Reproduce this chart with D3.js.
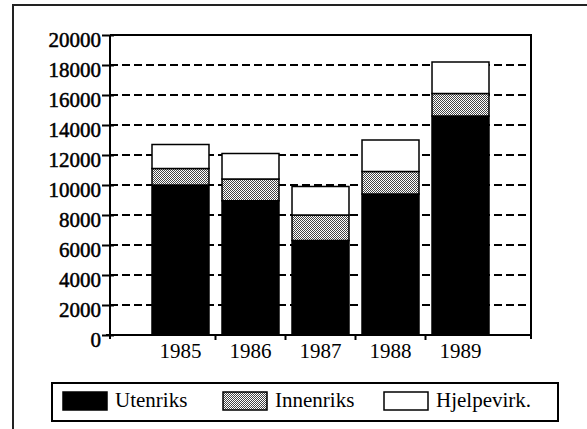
<!DOCTYPE html>
<html>
<head>
<meta charset="utf-8">
<script src="https://cdn.jsdelivr.net/npm/d3@7"></script>
<style>
  body { margin: 0; background: #fff; }
  text { font-family: "Liberation Serif", "Times New Roman", serif; fill: #000; }
</style>
</head>
<body>
<svg id="chart" width="587" height="429"></svg>
<script>
// data
var years = ["1985", "1986", "1987", "1988", "1989"];
var seriesNames = ["Utenriks", "Innenriks", "Hjelpevirk."];
var utenriks = [10000, 8950, 6300, 9400, 14600];
var innenriks = [1100, 1450, 1700, 1500, 1500];
var hjelpevirk = [1600, 1700, 1900, 2100, 2100];
var yTicks = [0, 2000, 4000, 6000, 8000, 10000, 12000, 14000, 16000, 18000, 20000];

var rows = years.map(function(y, i) {
  return { year: y, "Utenriks": utenriks[i], "Innenriks": innenriks[i], "Hjelpevirk.": hjelpevirk[i] };
});

var svg = d3.select("#chart");
var plotL = 110, plotR = 531, plotT = 35, plotB = 335;

// stipple for Innenriks
var defs = svg.append("defs");
var pat = defs.append("pattern")
  .attr("id", "dots")
  .attr("width", 2).attr("height", 2)
  .attr("patternUnits", "userSpaceOnUse");
pat.append("rect").attr("width", 2).attr("height", 2).attr("fill", "#fff");
pat.append("rect").attr("x", 0).attr("y", 0).attr("width", 1).attr("height", 1).attr("fill", "#444");
pat.append("rect").attr("x", 1).attr("y", 1).attr("width", 1).attr("height", 1).attr("fill", "#444");

var fills = { "Utenriks": "#000", "Innenriks": "url(#dots)", "Hjelpevirk.": "#fff" };

// outer frame (only top and left edges show)
svg.append("path")
  .attr("d", "M13,429 L13,5 L587,5")
  .attr("fill", "none").attr("stroke", "#222").attr("stroke-width", 2);

var x = d3.scaleBand()
  .domain(years)
  .range([plotL, plotR])
  .paddingInner(0.186)
  .paddingOuter(0.6);

var y = d3.scaleLinear()
  .domain([0, 20000])
  .range([plotB, plotT]);

// dashed grid
svg.append("g")
  .selectAll("line")
  .data(yTicks.filter(function(d) { return d > 0 && d < 20000; }))
  .join("line")
  .attr("x1", plotL).attr("x2", plotR)
  .attr("y1", function(d) { return y(d); })
  .attr("y2", function(d) { return y(d); })
  .attr("stroke", "#000")
  .attr("stroke-width", 2.2)
  .attr("stroke-dasharray", "8,4");

// stacked bars
var stack = d3.stack().keys(seriesNames);
var layers = stack(rows);

svg.append("g")
  .selectAll("g")
  .data(layers)
  .join("g")
  .attr("fill", function(d) { return fills[d.key]; })
  .selectAll("rect")
  .data(function(d) { return d; })
  .join("rect")
  .attr("x", function(d) { return x(d.data.year); })
  .attr("y", function(d) { return y(d[1]); })
  .attr("width", x.bandwidth())
  .attr("height", function(d) { return y(d[0]) - y(d[1]); })
  .attr("stroke", "#000")
  .attr("stroke-width", 1.5);

// plot frame: top and right border
svg.append("path")
  .attr("d", "M" + plotL + "," + plotT + " L" + plotR + "," + plotT + " L" + plotR + "," + (plotB + 4))
  .attr("fill", "none").attr("stroke", "#000").attr("stroke-width", 2);

// y axis
var yAxis = d3.axisLeft(y)
  .tickValues(yTicks)
  .tickFormat(d3.format("d"))
  .tickSize(8)
  .tickPadding(1)
  .tickSizeOuter(0);

var yg = svg.append("g")
  .attr("transform", "translate(" + plotL + ",0)")
  .call(yAxis)
  .attr("font-family", "Liberation Serif")
  .attr("font-size", 21);
yg.select(".domain").attr("stroke-width", 2).attr("d", "M0," + plotT + "V" + (plotB + 4));
yg.selectAll(".tick line").attr("x2", -8).attr("x1", 4).attr("stroke-width", 2);
yg.selectAll(".tick text")
  .attr("dy", null)
  .attr("y", 11)
  .attr("stroke", "#000")
  .attr("stroke-width", 0.5);

// x axis: ticks sit between the bars
var centers = years.map(function(d) { return x(d) + x.bandwidth() / 2; });
var between = [];
for (var i = 1; i < centers.length; i++) between.push((centers[i - 1] + centers[i]) / 2);

var xg = svg.append("g");
xg.append("line")
  .attr("x1", plotL - 4).attr("x2", plotR)
  .attr("y1", plotB).attr("y2", plotB)
  .attr("stroke", "#000").attr("stroke-width", 2);
xg.selectAll("line.tk")
  .data(between)
  .join("line")
  .attr("class", "tk")
  .attr("x1", function(d) { return d; }).attr("x2", function(d) { return d; })
  .attr("y1", plotB).attr("y2", plotB + 5)
  .attr("stroke", "#000").attr("stroke-width", 2);
xg.selectAll("text")
  .data(years)
  .join("text")
  .attr("x", function(d) { return x(d) + x.bandwidth() / 2; })
  .attr("y", 358)
  .attr("text-anchor", "middle")
  .style("font-size", "21px")
  .text(function(d) { return d; });

// legend
var lg = svg.append("g");
lg.append("rect")
  .attr("x", 52).attr("y", 383)
  .attr("width", 506).attr("height", 38)
  .attr("fill", "#fff").attr("stroke", "#000").attr("stroke-width", 2);

var legendX = [63, 223, 384];
var item = lg.selectAll("g.item")
  .data(seriesNames)
  .join("g")
  .attr("class", "item")
  .attr("transform", function(d, i) { return "translate(" + legendX[i] + ",392)"; });
item.append("rect")
  .attr("width", 44).attr("height", 18)
  .attr("fill", function(d) { return fills[d]; })
  .attr("stroke", "#000").attr("stroke-width", 1.5);
item.append("text")
  .attr("x", 52).attr("y", 15)
  .style("font-size", "21px")
  .text(function(d) { return d; });
</script>
</body>
</html>
